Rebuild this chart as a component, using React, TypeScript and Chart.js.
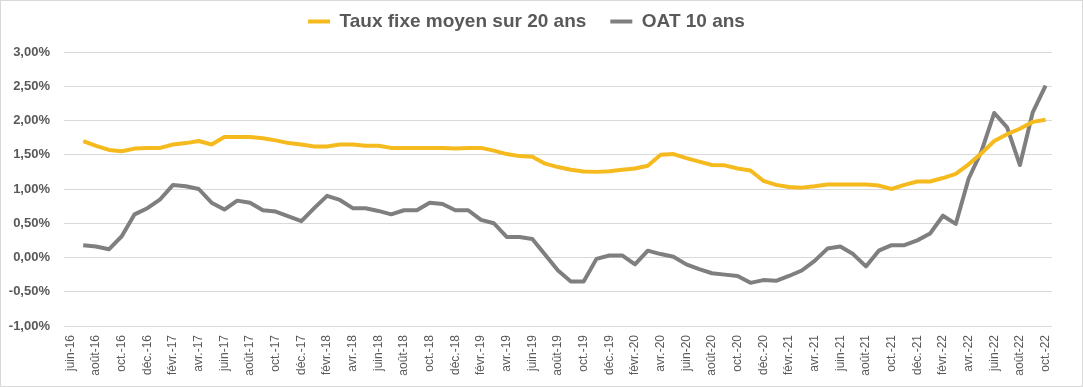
import React, { useEffect, useRef } from "react";
import { Chart, registerables } from "chart.js";

Chart.register(...registerables);

const categories: string[] = [
  "juin-16", "juil.-16", "août-16", "sept.-16", "oct.-16", "nov.-16", "déc.-16",
  "janv.-17", "févr.-17", "mars-17", "avr.-17", "mai-17", "juin-17", "juil.-17", "août-17", "sept.-17", "oct.-17", "nov.-17", "déc.-17",
  "janv.-18", "févr.-18", "mars-18", "avr.-18", "mai-18", "juin-18", "juil.-18", "août-18", "sept.-18", "oct.-18", "nov.-18", "déc.-18",
  "janv.-19", "févr.-19", "mars-19", "avr.-19", "mai-19", "juin-19", "juil.-19", "août-19", "sept.-19", "oct.-19", "nov.-19", "déc.-19",
  "janv.-20", "févr.-20", "mars-20", "avr.-20", "mai-20", "juin-20", "juil.-20", "août-20", "sept.-20", "oct.-20", "nov.-20", "déc.-20",
  "janv.-21", "févr.-21", "mars-21", "avr.-21", "mai-21", "juin-21", "juil.-21", "août-21", "sept.-21", "oct.-21", "nov.-21", "déc.-21",
  "janv.-22", "févr.-22", "mars-22", "avr.-22", "mai-22", "juin-22", "juil.-22", "août-22", "sept.-22", "oct.-22",
];

const tauxFixe20ans: (number | null)[] = [
  null,
  1.70, 1.63, 1.57, 1.55, 1.59, 1.60, 1.60, 1.65, 1.67, 1.70,
  1.65, 1.76, 1.76, 1.76, 1.74, 1.71, 1.67, 1.65, 1.62, 1.62,
  1.65, 1.65, 1.63, 1.63, 1.60, 1.60, 1.60, 1.60, 1.60, 1.59,
  1.60, 1.60, 1.56, 1.51, 1.48, 1.47, 1.37, 1.32, 1.28, 1.255,
  1.25, 1.26, 1.28, 1.30, 1.34, 1.50, 1.51, 1.45, 1.40, 1.35,
  1.345, 1.30, 1.27, 1.12, 1.06, 1.03, 1.02, 1.04, 1.065, 1.065,
  1.065, 1.065, 1.05, 1.00, 1.06, 1.11, 1.11, 1.16, 1.22, 1.36,
  1.52, 1.70, 1.80, 1.88, 1.98, 2.01,
];

const oat10ans: (number | null)[] = [
  null,
  0.18, 0.16, 0.12, 0.31, 0.63, 0.72, 0.85, 1.06, 1.04, 1.00,
  0.80, 0.70, 0.83, 0.80, 0.69, 0.67, 0.60, 0.53, 0.72, 0.90,
  0.84, 0.72, 0.72, 0.68, 0.63, 0.69, 0.69, 0.80, 0.78, 0.69,
  0.69, 0.55, 0.50, 0.30, 0.30, 0.27, 0.04, -0.19, -0.35, -0.35,
  -0.02, 0.03, 0.03, -0.10, 0.10, 0.05, 0.01, -0.10, -0.17, -0.23,
  -0.25, -0.27, -0.37, -0.33, -0.34, -0.27, -0.19, -0.05, 0.13, 0.16,
  0.05, -0.13, 0.10, 0.18, 0.18, 0.25, 0.35, 0.61, 0.49, 1.15,
  1.55, 2.11, 1.90, 1.35, 2.12, 2.51,
];

const seriesNames = ["Taux fixe moyen sur 20 ans", "OAT 10 ans"];
const yMin = -1;
const yMax = 3;
const yStep = 0.5;

const FONT = '"Liberation Sans Narrow", "Arial Narrow", "Liberation Sans", Arial, sans-serif';
const TEXT = "#595959";

const legendHeightFix = {
  id: "legendHeightFix",
  beforeInit(chart: any) {
    const legend = chart.legend;
    if (!legend) return;
    const origFit = legend.fit;
    legend.fit = function () {
      origFit.call(this);
      this.height = 64;
    };
  },
};

export default function App() {
  const ref = useRef<HTMLCanvasElement | null>(null);

  useEffect(() => {
    if (!ref.current) return;
    const chart = new Chart(ref.current, {
      type: "line",
      data: {
        labels: categories,
        datasets: [
          {
            label: seriesNames[0],
            data: tauxFixe20ans,
            borderColor: "#F5BA1E",
            backgroundColor: "#F5BA1E",
            borderWidth: 4,
            pointRadius: 0,
            tension: 0,
            borderJoinStyle: "round",
          },
          {
            label: seriesNames[1],
            data: oat10ans,
            borderColor: "#7F7F7F",
            backgroundColor: "#7F7F7F",
            borderWidth: 4,
            pointRadius: 0,
            tension: 0,
            borderJoinStyle: "round",
          },
        ],
      },
      options: {
        responsive: false,
        animation: false,
        layout: { padding: { top: -13, left: 0, right: 30, bottom: 0 } },
        plugins: {
          tooltip: { enabled: false },
          legend: {
            position: "top",
            align: "center",
            labels: {
              usePointStyle: true,
              pointStyle: "line",
              pointStyleWidth: 22,
              boxHeight: 19,
              padding: 24,
              color: TEXT,
              font: { family: FONT, size: 19, weight: "bold" },
            },
          },
        },
        scales: {
          x: {
            offset: true,
            grid: { display: false, drawTicks: false },
            border: { display: false },
            ticks: {
              autoSkip: false,
              minRotation: 90,
              maxRotation: 90,
              padding: 9,
              color: TEXT,
              font: { family: FONT, size: 12 },
              callback: (_v: any, i: number) => (i % 2 === 0 ? categories[i] : ""),
            },
            afterFit: (s: any) => {
              s.height = 60;
            },
          },
          y: {
            min: yMin,
            max: yMax,
            grid: { color: "#D9D9D9", lineWidth: 1, drawTicks: false },
            border: { display: false },
            ticks: {
              stepSize: yStep,
              padding: 14,
              color: TEXT,
              font: { family: FONT, size: 13, weight: "bold" },
              callback: (v: any) => Number(v).toFixed(2).replace(".", ",") + "%",
            },
            afterFit: (s: any) => {
              s.width = 63;
            },
          },
        },
      },
      plugins: [legendHeightFix],
    });
    return () => chart.destroy();
  }, []);

  return (
    <div
      style={{
        position: "absolute",
        left: 0,
        top: 0,
        width: 1083,
        height: 387,
        boxSizing: "border-box",
        border: "1px solid #D9D9D9",
        background: "#FFFFFF",
      }}
    >
      <canvas ref={ref} width={1081} height={385} style={{ display: "block" }} />
    </div>
  );
}
